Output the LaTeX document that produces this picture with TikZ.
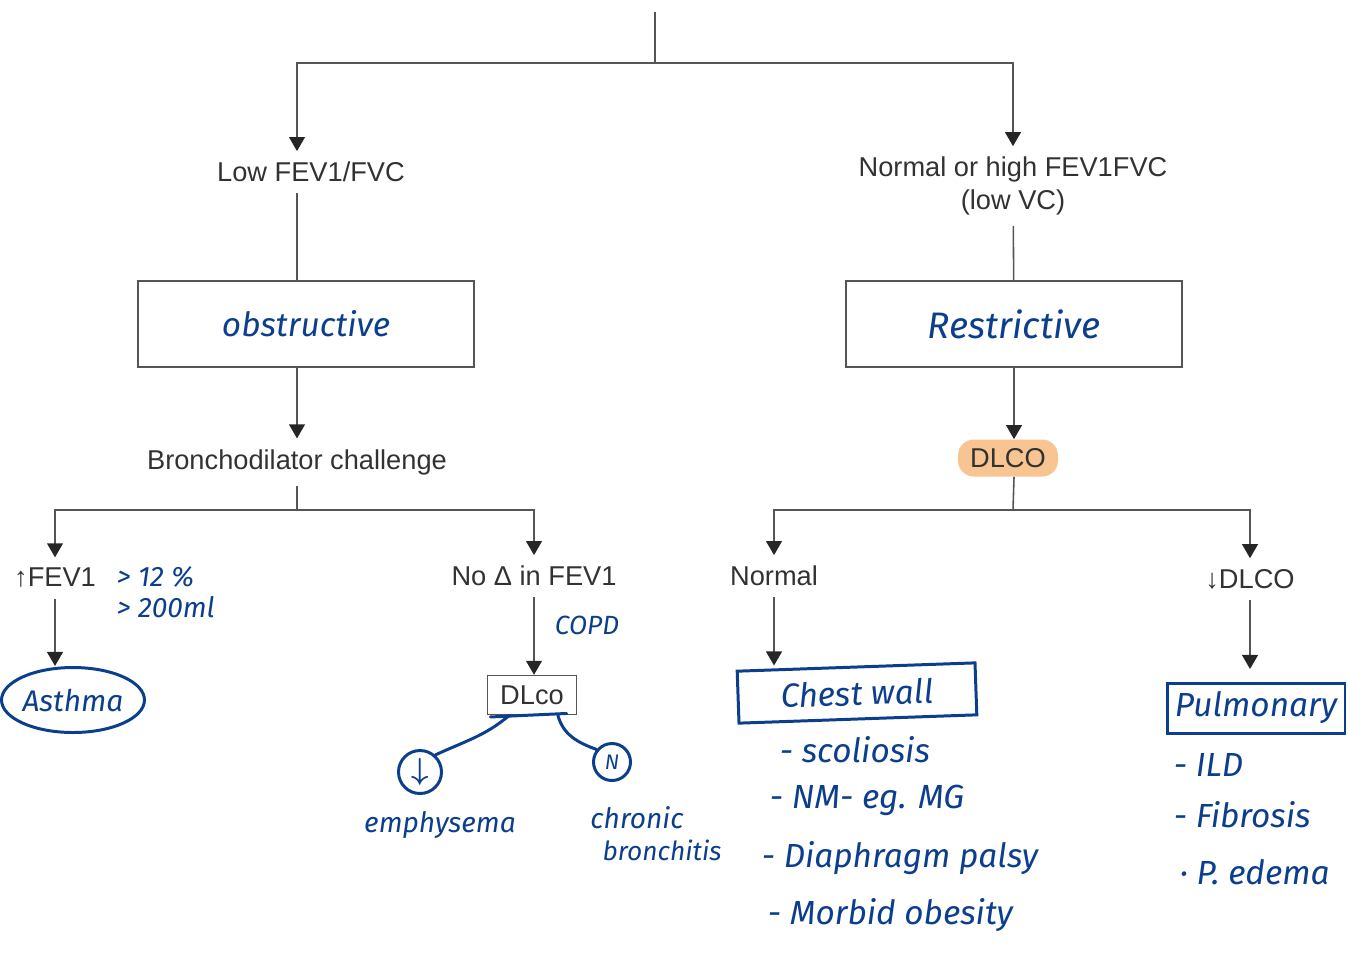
\documentclass[tikz,border=0pt]{standalone}
\usepackage{fontspec}
\usepackage{bm}
\setmainfont{Liberation Sans}
\newfontfamily\handfont{Fira Sans}
\usetikzlibrary{arrows.meta,shapes.geometric}

\definecolor{typegray}{RGB}{50,50,50}
\definecolor{linegray}{RGB}{85,85,85}
\definecolor{inkblue}{RGB}{12,62,142}
\definecolor{markorange}{RGB}{248,197,146}

\tikzset{
	typed/.style={text=typegray,font=\fontsize{15.5}{18.5}\selectfont,inner sep=6pt,align=center},
	hand/.style={text=inkblue,font=\handfont\itshape\fontsize{19}{22}\selectfont,inner sep=2pt},
	handline/.style={draw=inkblue,line width=1.7pt,line cap=round},
	typebox/.style={draw=linegray,line width=0.8pt},
	handbox/.style={draw=inkblue,line width=1.7pt}
}

\begin{document}
\begin{tikzpicture}[x=0.02cm,y=-0.02cm]
		\useasboundingbox (0,0) rectangle (1348,965);

		\begin{scope}[every node/.style={typed}]
			\node (low) at (311,172) {Low FEV1/FVC};
			\node (normhigh) at (1013,186) {Normal or high FEV1FVC\\(low VC)};

			\node (bronch) at (297,462) {Bronchodilator challenge};
			\node[fill=markorange,rounded corners=9pt,minimum width=2cm,minimum height=0.74cm,inner sep=2pt] (dlcohi) at (1008,458) {DLCO};

			\node (rise) at (55,578) {↑FEV1};
			\node (nochange) at (534,576) {No Δ in FEV1};
			\node (normal) at (774,576) {Normal};
			\node (lowdlco) at (1250,579) {↓DLCO};

			\node[typebox,minimum width=1.78cm,minimum height=0.78cm,inner sep=2pt] (dlco) at (532,695) {DLco};
		\end{scope}

		\begin{scope}[every node/.style={hand}]
			\node[typebox,minimum width=6.72cm,minimum height=1.72cm] (obstr) at (306,324) {obstructive};
			\node[typebox,minimum width=6.72cm,minimum height=1.72cm,font=\handfont\itshape\fontsize{21}{24}\selectfont] (restr) at (1014,324) {Restrictive};

			\node[anchor=west,font=\handfont\itshape\fontsize{16}{19}\selectfont] (gtpct) at (113,577) {> 12 \%};
			\node[anchor=west,font=\handfont\itshape\fontsize{16}{19}\selectfont] (gtml) at (113,607) {> 200ml};
			\node[handbox,ellipse,inner sep=0pt,minimum width=2.86cm,minimum height=1.3cm,font=\handfont\itshape\fontsize{17}{20}\selectfont] (asthma) at (73,700) {Asthma};

			\node[font=\handfont\itshape\fontsize{15}{18}\selectfont] (copd) at (587,625) {COPD};
			\node[handbox,circle,minimum size=0.86cm,inner sep=0pt] (down) at (420,772) {$\bm{\downarrow}$};
			\node[handbox,circle,minimum size=0.74cm,inner sep=0pt,font=\handfont\itshape\fontsize{12}{14}\selectfont] (nfull) at (612,762) {N};
			\node[font=\handfont\itshape\fontsize{16}{19}\selectfont] (emph) at (440,825) {emphysema};
			\node[font=\handfont\itshape\fontsize{16}{19}\selectfont] (chronic) at (637,818) {chronic};
			\node[font=\handfont\itshape\fontsize{15}{18}\selectfont] (bronchitis) at (662,850) {bronchitis};

			\node[handbox,rotate=2,minimum width=4.76cm,minimum height=1.04cm] (chest) at (857,693) {Chest wall};
			\node[anchor=west] (scol) at (776,750) {- scoliosis};
			\node[anchor=west] (neuro) at (766,800) {- NM- eg. MG};
			\node[anchor=west] (diaph) at (758,858) {- Diaphragm palsy};
			\node[anchor=west] (morbid) at (764,915) {- Morbid obesity};

			\node[handbox,minimum width=3.56cm,minimum height=1cm] (pulm) at (1256,708) {Pulmonary};
			\node[anchor=west] (ild) at (1170,765) {- ILD};
			\node[anchor=west] (fib) at (1170,815) {- Fibrosis};
			\node[anchor=west] (pedema) at (1176,872) {· P. edema};
		\end{scope}

		\coordinate (top) at (655,12);
		\coordinate (split) at (655,63);
		\coordinate (bsplit) at (297,510);
		\coordinate (rsplit) at (1013,510);

		\begin{scope}[>={Triangle[width=9pt,length=8pt,color=black!85]},
					  line width=0.9pt, draw=linegray]
			\draw (top) -- (split);
			\draw [->] (split) -| (bronch |- low.north);
			\draw [->] (split) -| (normhigh);
			\draw (bronch |- low.south) -- (bronch |- obstr.north);
			\draw (normhigh) -- (restr);

			\draw [->] (bronch |- obstr.south) -- (bronch);
			\draw (bronch) -- (bsplit);
			\draw [->] (bsplit) -| (rise);
			\draw [->] (bsplit) -| (nochange);
			\draw [->] (rise) -- (rise |- asthma.north);
			\draw [->] (nochange) -- (nochange |- dlco.north);

			\draw [->] (restr) -- (restr |- dlcohi.north);
			\draw (restr |- dlcohi.south) -- (rsplit);
			\draw [->] (rsplit) -| (normal);
			\draw [->] (rsplit) -| (lowdlco);
			\draw [->] (normal) -- (normal |- chest.north);
			\draw [->,shorten >=0.25cm] (lowdlco) -- (lowdlco |- pulm.north);
		\end{scope}

		% pen marks round the DLco box
		\draw [handline] ([xshift=2pt,yshift=-1pt]dlco.south west) -- ([xshift=-6pt,yshift=1pt]dlco.south east);
		\draw [handline] (dlco.-138) to[out=-140,in=25] (down.48);
		\draw [handline] (dlco.-38) to[out=-75,in=160] (nfull.141);
\end{tikzpicture}
\end{document}
